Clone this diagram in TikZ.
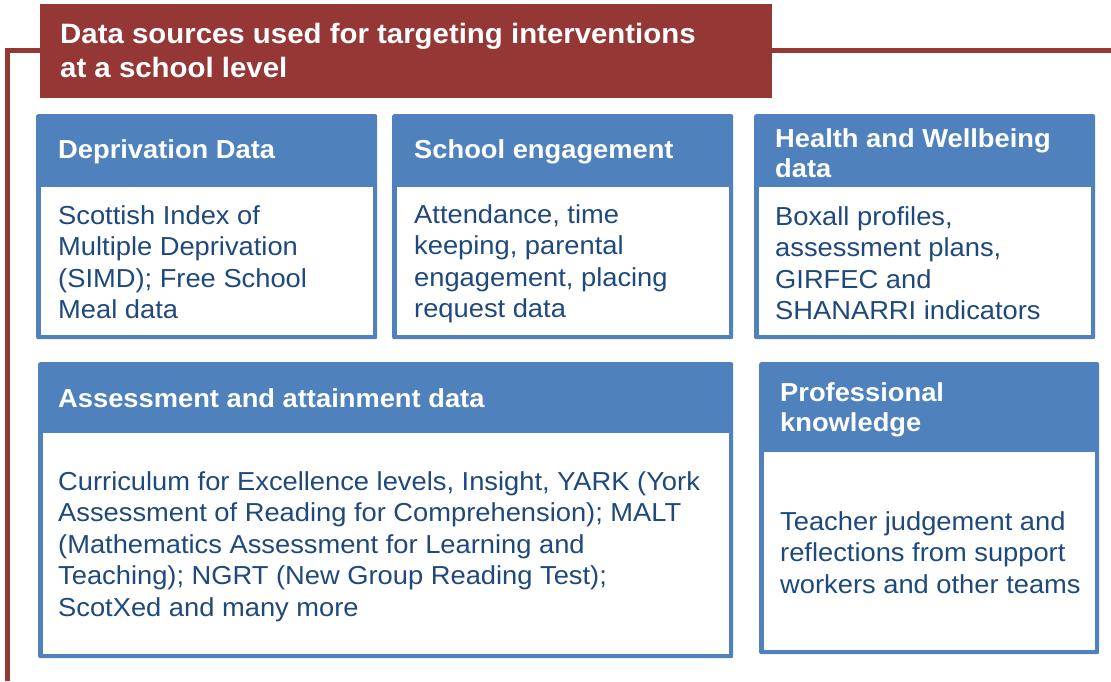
\documentclass[tikz,border=0pt]{standalone}
\usepackage{fontspec}
\setmainfont{Liberation Sans}[FakeStretch=1.05]
\definecolor{hdrblue}{RGB}{79,129,189}
\definecolor{titlered}{RGB}{149,55,53}
\definecolor{bodyblue}{RGB}{31,73,125}
\tikzset{
  boxouter/.style={fill=hdrblue, rounded corners=2pt},
  boxinner/.style={fill=white},
  titletext/.style={anchor=north west, inner sep=0pt, align=left, text=white,
    font=\fontsize{28}{33.5}\selectfont\bfseries},
  hdrtext/.style={anchor=north west, inner sep=0pt, align=left, text=white,
    font=\fontsize{26}{30}\selectfont\bfseries},
  bodytext/.style={anchor=north west, inner sep=0pt, align=left, text=bodyblue,
    font=\fontsize{26}{31.5}\selectfont},
  redline/.style={draw=titlered, line width=4.5pt},
}
\newcommand{\srcbox}[6]{% name, x1, y1, x2, y2, header bottom
  \node[boxouter, minimum width=#4-#2, minimum height=#5-#3, inner sep=0pt, anchor=north west] (#1) at (#2,#3) {};
  \fill[boxinner] (#2+4.5,#6) rectangle (#4-4.5,#5-4.5);
}
\begin{document}
\begin{tikzpicture}[x=1pt,y=-1pt]
\useasboundingbox (0,0) rectangle (1111,681);
% title
\node[fill=titlered, minimum width=732, minimum height=94, inner sep=0pt, anchor=north west] (title) at (40,4) {};
\coordinate (lstart) at (7.5,681);
\coordinate (corner) at (7.5,50.5);
\coordinate (rend) at (1111,50.5);
\draw[redline] (lstart) -- (corner) -- (title.west |- corner);
\draw[redline] (title.east |- rend) -- (rend);
\node[titletext] (ttl) at (60,43.3-23.45) {\strut Data sources used for targeting interventions\\at a school level};
% boxes
\srcbox{b1}{36}{114}{377}{339}{187}
\srcbox{b2}{392}{114}{733}{339}{187}
\srcbox{b3}{754}{114}{1095}{339}{187}
\srcbox{b4}{38}{362}{733}{658}{433}
\srcbox{b5}{759}{362}{1099}{654}{452}
% headers
\node[hdrtext] (h1) at (58,158-21) {\strut Deprivation Data};
\node[hdrtext] (h2) at (414,158-21) {\strut School engagement};
\node[hdrtext] (h3) at (775,147-21) {\strut Health and Wellbeing\\data};
\node[hdrtext] (h4) at (58,407-21) {\strut Assessment and attainment data};
\node[hdrtext] (h5) at (780,401-21) {\strut Professional\\knowledge};
% bodies
\node[bodytext] (t1) at (58,224-22.05) {\strut Scottish Index of\\Multiple Deprivation\\(SIMD); Free School\\Meal data};
\node[bodytext] (t2) at (414,223-22.05) {\strut Attendance, time\\keeping, parental\\engagement, placing\\request data};
\node[bodytext] (t3) at (775,225-22.05) {\strut Boxall profiles,\\assessment plans,\\GIRFEC and\\SHANARRI indicators};
\node[bodytext] (t4) at (58,490-22.05) {\strut Curriculum for Excellence levels, Insight, YARK (York\\Assessment of Reading for Comprehension); MALT\\(Mathematics Assessment for Learning and\\Teaching); NGRT (New Group Reading Test);\\ScotXed and many more};
\node[bodytext] (t5) at (780,530-22.05) {\strut Teacher judgement and\\reflections from support\\workers and other teams};
\end{tikzpicture}
\end{document}
